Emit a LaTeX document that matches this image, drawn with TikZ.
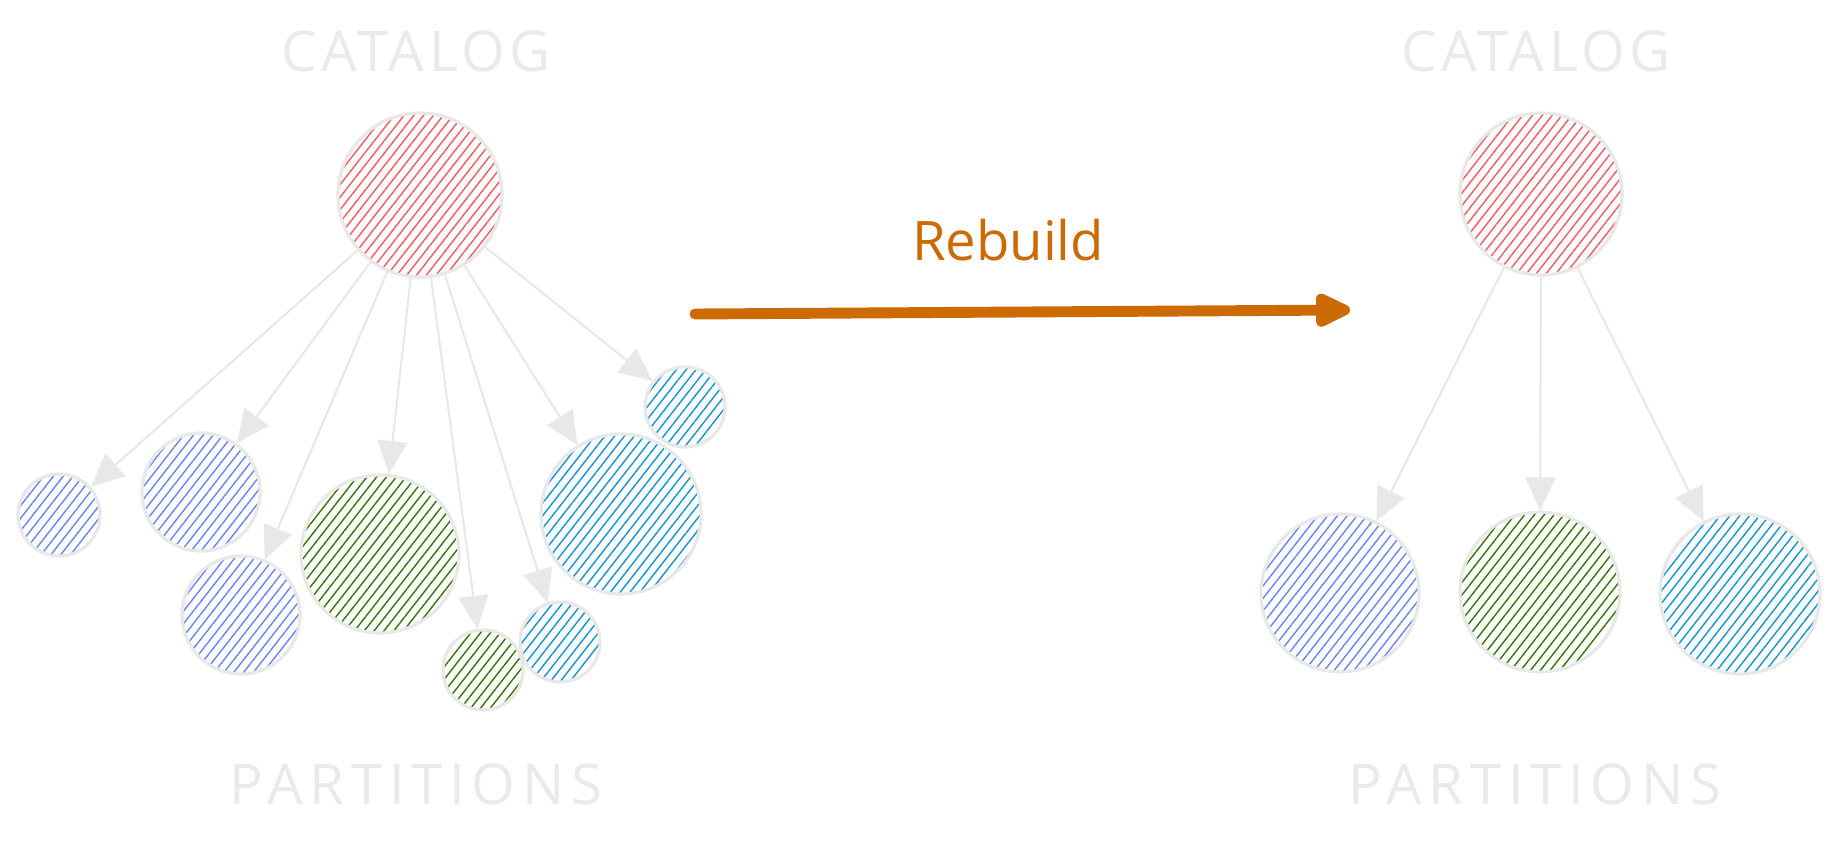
\documentclass[tikz,border=0pt]{standalone}
\usepackage{fontspec}
\setmainfont{Open Sans}
\usetikzlibrary{arrows.meta,patterns.meta}
\usepackage{xcolor}
\definecolor{cedge}  {HTML}{E8E8E8}
\definecolor{ctext}  {HTML}{EAEAEA}
\definecolor{cred}   {HTML}{F25F66}
\definecolor{cblue}  {HTML}{6D87FB}
\definecolor{cgreen} {HTML}{3A790C}
\definecolor{ccyan}  {HTML}{1896D6}
\definecolor{corange}{HTML}{CC6A04}

\begin{document}
\begin{tikzpicture}[
  ball/.style  = {circle, inner sep=0pt, draw=cedge, line width=0.9pt,
                  pattern={Lines[angle=52, distance=2.2pt, line width=0.42pt]}},
  redb/.style  = {ball, pattern color=cred},
  blueb/.style = {ball, pattern color=cblue},
  grnb/.style  = {ball, pattern color=cgreen},
  cyanb/.style = {ball, pattern color=ccyan},
  lbl/.style   = {anchor=base, text=ctext,
                  font=\fontsize{16}{18}\selectfont\addfontfeature{LetterSpace=8}},
  plbl/.style  = {lbl, font=\fontsize{16}{18}\selectfont\addfontfeature{LetterSpace=12}},
  arr/.style   = {-{Triangle[length=0.33cm, width=0.30cm]}, line width=0.6pt, color=cedge},
  bigarr/.style = {-{Triangle[length=0.42cm, width=0.36cm, round]},
                   line width=3.1pt, line cap=round, color=corange}
]
\useasboundingbox (0,0) rectangle (18.40,-8.46);

% left: catalog before rebuild
\node[lbl]  (catL)  at (4.16,-0.72) {CATALOG};
\node[plbl] (partL) at (4.16,-8.04) {PARTITIONS};
\node[redb, minimum size=1.64cm] (cat) at (4.20,-1.95) {};
\node[blueb, minimum size=0.82cm] (p1) at (0.59,-5.15) {};
\node[blueb, minimum size=1.18cm] (p2) at (2.01,-4.92) {};
\node[blueb, minimum size=1.18cm] (p3) at (2.41,-6.15) {};
\node[grnb,  minimum size=1.58cm] (p4) at (3.80,-5.54) {};
\node[grnb,  minimum size=0.80cm] (p5) at (4.83,-6.70) {};
\node[cyanb, minimum size=0.80cm] (p6) at (5.60,-6.42) {};
\node[cyanb, minimum size=1.60cm] (p7) at (6.21,-5.14) {};
\node[cyanb, minimum size=0.80cm] (p8) at (6.85,-4.07) {};
\draw[arr] (cat) -- (p1);
\draw[arr] (cat) -- (p2);
\draw[arr] (cat) -- (p3);
\draw[arr] (cat) -- (p4);
\draw[arr] (cat) -- (p5);
\draw[arr] (cat) -- (p6);
\draw[arr] (cat) -- (p7);
\draw[arr] (cat) -- (p8);

% rebuild arrow
\coordinate (rbA) at (6.95,-3.14);
\coordinate (rbB) at (13.50,-3.10);
\draw[bigarr] (rbA) -- (rbB);
\node[anchor=base, text=corange, font=\fontsize{15.5}{18}\selectfont] (rb) at (10.08,-2.60) {Rebuild};

% right: catalog after rebuild
\node[lbl]  (catR)  at (15.36,-0.72) {CATALOG};
\node[plbl] (partR) at (15.35,-8.04) {PARTITIONS};
\node[redb, minimum size=1.62cm] (rcat) at (15.41,-1.94) {};
\node[blueb, minimum size=1.58cm] (q1) at (13.40,-5.93) {};
\node[grnb,  minimum size=1.60cm] (q2) at (15.40,-5.92) {};
\node[cyanb, minimum size=1.60cm] (q3) at (17.40,-5.94) {};
\draw[arr] (rcat) -- (q1);
\draw[arr] (rcat) -- (q2);
\draw[arr] (rcat) -- (q3);
\end{tikzpicture}
\end{document}
